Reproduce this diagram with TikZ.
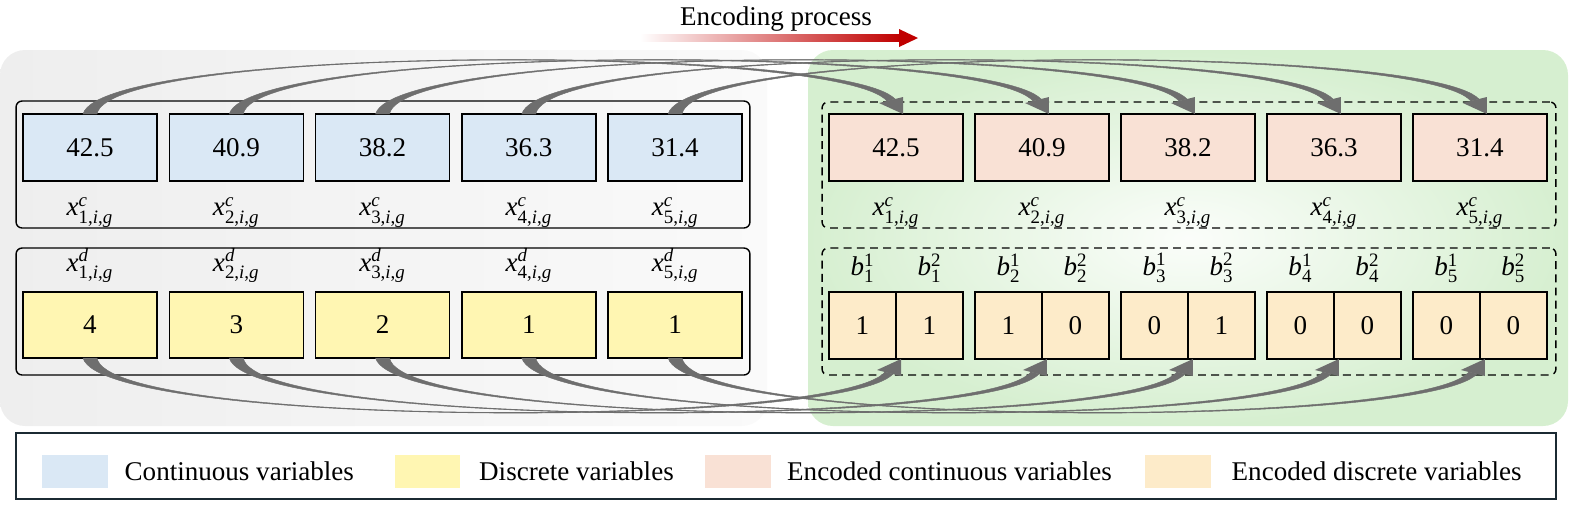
\documentclass[tikz,border=0pt]{standalone}
\usepackage{amsmath}
\usepackage{fontspec}
\setmainfont{Liberation Serif}
\usetikzlibrary{positioning, calc}

\definecolor{contblue}{HTML}{DAE8F5}
\definecolor{discyellow}{HTML}{FFF6B2}
\definecolor{enccont}{HTML}{F9E1D5}
\definecolor{encdisc}{HTML}{FDEBC9}
\definecolor{panelgreen}{HTML}{D6EFD0}
\definecolor{panelgray}{HTML}{EEEEEE}
\definecolor{arcgray}{HTML}{6E6E6E}
\definecolor{encred}{HTML}{C00000}
\definecolor{legendline}{HTML}{1B2A33}

\newcommand{\xvar}[2]{\textit{x}$^{\textit{#1}}_{\text{#2,\textit{i},\textit{g}}}$}
\newcommand{\bvar}[2]{\textit{b}$^{\text{#2}}_{\text{#1}}$}

% tapered arc from #1 to #2, #3 = -1 above, 1 below
\newcommand{\encarc}[3]{%
  \coordinate (s) at (#1);
  \coordinate (t) at (#2);
  \filldraw[arcgray, line width=0.25pt] ($(s)+(-7,0)$) .. controls ($(s)+(13,{70*(#3)})$) and ($(t)+(-60,{70*(#3)})$) .. ($(t)+(-8,{15*(#3)})$)
    -- ($(t)+(-16,{13*(#3)})$) .. controls ($(t)+(-65,{69.5*(#3)})$) and ($(s)+(19,{69.5*(#3)})$) .. ($(s)+(7,0)$) -- cycle;
  \fill[arcgray] (t) -- ($(t)+(0,{17*(#3)})$) -- ($(t)+(-24,{11*(#3)})$) -- cycle;}

\tikzset{
  every label/.style={inner sep=0pt},
  valbox/.style={draw, line width=0.8pt, outer sep=0pt, inner sep=0pt, minimum width=2.68cm, minimum height=1.34cm},
  discbox/.style={valbox, fill=discyellow, minimum height=1.32cm},
  bitbox/.style={draw, line width=0.8pt, outer sep=0pt, inner sep=0pt, fill=encdisc, minimum width=1.34cm, minimum height=1.34cm},
  lblbelow/.style={yshift=-0.32cm},
  lblabove/.style={yshift=0.18cm},
  group/.style={draw, line width=0.8pt, rounded corners=0.12cm, minimum width=14.68cm, minimum height=2.54cm},
  encgroup/.style={group, dash pattern=on 4.5pt off 3pt},
  swatch/.style={minimum width=1.32cm, minimum height=0.66cm, inner sep=0pt},
  legtext/.style={inner sep=0pt}
}

\begin{document}
\begin{tikzpicture}[x=0.02cm, y=-0.02cm, font=\fontsize{15.4}{18}\selectfont]
\useasboundingbox (0,0) rectangle (1575,505);

% panels
\shade[left color=panelgray, right color=panelgray!30!white, rounded corners=0.5cm] (0,50) rectangle (767,426);
\shade[inner color=panelgreen!10!white, outer color=panelgreen, rounded corners=0.5cm] (808,50) rectangle (1568,426);

% encoding arrow
\node[anchor=base] (title) at (776,25) {Encoding process};
\coordinate (encL) at (640,38);
\coordinate (encR) at (918,38);
\shade[left color=white, right color=encred] ($(encL)+(0,-3.5)$) rectangle ($(encR)+(-18,3.5)$);
\fill[encred] (encR) -- ($(encR)+(-19,-9)$) -- ($(encR)+(-19,9)$) -- cycle;

% groups
\node[group] (gc) at (383,164.5) {};
\node[group] (gd) at (383,311.5) {};
\node[encgroup, minimum height=2.52cm] (ge) at (1189,165) {};
\node[encgroup] (gb) at (1189,311.5) {};

% continuous variables
\node[valbox, fill=contblue, label={[lblbelow]below:\xvar{c}{1}}] (c1) at (90,147.5) {42.5};
\node[valbox, fill=contblue, label={[lblbelow]below:\xvar{c}{2}}] (c2) [right=0.246cm of c1] {40.9};
\node[valbox, fill=contblue, label={[lblbelow]below:\xvar{c}{3}}] (c3) [right=0.246cm of c2] {38.2};
\node[valbox, fill=contblue, label={[lblbelow]below:\xvar{c}{4}}] (c4) [right=0.246cm of c3] {36.3};
\node[valbox, fill=contblue, label={[lblbelow]below:\xvar{c}{5}}] (c5) [right=0.246cm of c4] {31.4};

% discrete variables
\node[discbox, label={[lblabove]above:\xvar{d}{1}}] (d1) at (90,325) {4};
\node[discbox, label={[lblabove]above:\xvar{d}{2}}] (d2) [right=0.246cm of d1] {3};
\node[discbox, label={[lblabove]above:\xvar{d}{3}}] (d3) [right=0.246cm of d2] {2};
\node[discbox, label={[lblabove]above:\xvar{d}{4}}] (d4) [right=0.246cm of d3] {1};
\node[discbox, label={[lblabove]above:\xvar{d}{5}}] (d5) [right=0.246cm of d4] {1};

% encoded continuous variables
\node[valbox, fill=enccont, label={[lblbelow]below:\xvar{c}{1}}] (e1) at (896,147.5) {42.5};
\node[valbox, fill=enccont, label={[lblbelow]below:\xvar{c}{2}}] (e2) [right=0.24cm of e1] {40.9};
\node[valbox, fill=enccont, label={[lblbelow]below:\xvar{c}{3}}] (e3) [right=0.24cm of e2] {38.2};
\node[valbox, fill=enccont, label={[lblbelow]below:\xvar{c}{4}}] (e4) [right=0.24cm of e3] {36.3};
\node[valbox, fill=enccont, label={[lblbelow]below:\xvar{c}{5}}] (e5) [right=0.24cm of e4] {31.4};

% encoded discrete variables
\node[bitbox, label={[lblabove]above:\bvar{1}{1}}] (b11) at (862.5,325.5) {1};
\node[bitbox, label={[lblabove]above:\bvar{1}{2}}] (b12) [right=0pt of b11] {1};
\node[bitbox, label={[lblabove]above:\bvar{2}{1}}] (b21) [right=0.24cm of b12] {1};
\node[bitbox, label={[lblabove]above:\bvar{2}{2}}] (b22) [right=0pt of b21] {0};
\node[bitbox, label={[lblabove]above:\bvar{3}{1}}] (b31) [right=0.24cm of b22] {0};
\node[bitbox, label={[lblabove]above:\bvar{3}{2}}] (b32) [right=0pt of b31] {1};
\node[bitbox, label={[lblabove]above:\bvar{4}{1}}] (b41) [right=0.24cm of b32] {0};
\node[bitbox, label={[lblabove]above:\bvar{4}{2}}] (b42) [right=0pt of b41] {0};
\node[bitbox, label={[lblabove]above:\bvar{5}{1}}] (b51) [right=0.24cm of b42] {0};
\node[bitbox, label={[lblabove]above:\bvar{5}{2}}] (b52) [right=0pt of b51] {0};

% arcs
\encarc{c1.north}{$(e1.north)+(7,0)$}{-1}
\encarc{c2.north}{$(e2.north)+(7,0)$}{-1}
\encarc{c3.north}{$(e3.north)+(7,0)$}{-1}
\encarc{c4.north}{$(e4.north)+(7,0)$}{-1}
\encarc{c5.north}{$(e5.north)+(7,0)$}{-1}
\encarc{d1.south}{$(b11.south east)+(5,0)$}{1}
\encarc{d2.south}{$(b21.south east)+(5,0)$}{1}
\encarc{d3.south}{$(b31.south east)+(5,0)$}{1}
\encarc{d4.south}{$(b41.south east)+(5,0)$}{1}
\encarc{d5.south}{$(b51.south east)+(5,0)$}{1}

% legend
\node[draw=legendline, line width=0.8pt, minimum width=30.8cm, minimum height=1.32cm] (legend) at (786,466) {};
\node[swatch, fill=contblue] (sw1) at (75,471.5) {};
\node[legtext, right=0.32cm of sw1] (lt1) {Continuous variables};
\node[swatch, fill=discyellow] (sw2) at (427.5,471.5) {};
\node[legtext, right=0.36cm of sw2] (lt2) {Discrete variables};
\node[swatch, fill=enccont] (sw3) at (737.5,471.5) {};
\node[legtext, right=0.32cm of sw3] (lt3) {Encoded continuous variables};
\node[swatch, fill=encdisc] (sw4) at (1178,471.5) {};
\node[legtext, right=0.4cm of sw4] (lt4) {Encoded discrete variables};
\end{tikzpicture}
\end{document}
